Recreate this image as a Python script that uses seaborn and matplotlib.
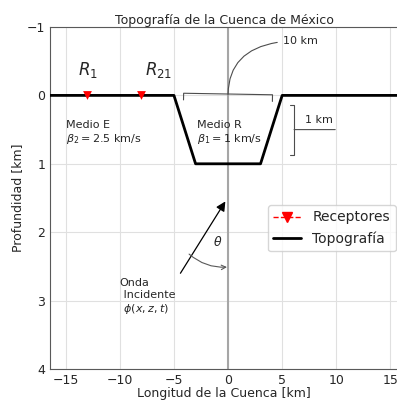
import numpy as np
import pandas as pd
import seaborn as sns
import matplotlib.pyplot as plt
from matplotlib.lines import Line2D

# perfil de la cuenca: longitud [km] y profundidad [km]
topo_x = [-16.5, -5, -3, 3, 5, 16.5]
topo_z = [0, 0, 1, 1, 0, 0]

# receptores en superficie
rec_x = [-13, -8]
rec_z = [0, 0]
rec_labels = ['$R_{1}$', '$R_{21}$']

x_ticks = [-15, -10, -5, 0, 5, 10, 15]
y_ticks = [-1, 0, 1, 2, 3, 4]

sns.set_style('whitegrid')
plt.rcParams['font.family'] = ['DejaVu Sans']
plt.rcParams['axes.edgecolor'] = '0.35'
plt.rcParams['grid.color'] = '0.88'

fig = plt.figure(figsize=(3.97, 4.0), dpi=100)
ax = fig.add_axes([50/397, 31/400, 348/397, 342/400])
ax.spines['right'].set_visible(False)

ax.axvline(0, color='0.65', lw=1.5, zorder=1)

# topografia
sns.lineplot(x=topo_x, y=topo_z, color='k', lw=2, sort=False, ax=ax, zorder=3)

# receptores
sns.scatterplot(x=rec_x, y=rec_z, marker='v', color='red', s=40, linewidth=0, ax=ax, zorder=4)
for xr, lab, dx in zip(rec_x, rec_labels, [-0.9, 0.35]):
    ax.text(xr + dx, -0.37, lab, fontsize=12, va='center', ha='left')

ax.set_xlim(-16.45, 15.7)
ax.set_ylim(4, -1)
ax.set_xticks(x_ticks)
ax.set_yticks(y_ticks)
ax.tick_params(labelsize=9, length=0, pad=3.5)

ax.set_title('Topografía de la Cuenca de México', fontsize=9, pad=2.5)
ax.set_xlabel('Longitud de la Cuenca [km]', fontsize=9, labelpad=0)
ax.set_ylabel('Profundidad [km]', fontsize=9, labelpad=2)

# medios
ax.text(-15, 0.545, 'Medio E\n$\\beta_2 = 2.5$ km/s', fontsize=8, va='center')
ax.text(-2.9, 0.545, 'Medio R\n$\\beta_1 = 1$ km/s', fontsize=8, va='center')

# escala horizontal
ax.annotate('10 km', xy=(0, 0), xytext=(5.1, -0.8), fontsize=8, va='center', ha='left',
            arrowprops=dict(arrowstyle='-[, widthB=4.0, lengthB=0.6',
                            connectionstyle='angle3,angleA=0,angleB=90',
                            color='0.3', lw=0.8, shrinkB=1, mutation_scale=8))

# escala vertical
ax.annotate('', xy=(6.1, 0.5), xytext=(9.9, 0.5),
            arrowprops=dict(arrowstyle='-[, widthB=2.25, lengthB=0.36',
                            color='0.3', lw=0.8, shrinkA=0, shrinkB=0, mutation_scale=8))
ax.text(7.1, 0.36, '1 km', fontsize=8, va='center')

# onda incidente
ax.annotate('', xy=(-0.25, 1.55), xytext=(-4.4, 2.6),
            arrowprops=dict(arrowstyle='-|>', color='k', lw=0.9, shrinkA=0, shrinkB=0,
                            mutation_scale=14))
ax.annotate('', xy=(-0.1, 2.51), xytext=(-3.6, 2.32),
            arrowprops=dict(arrowstyle='->', color='0.35', lw=0.8,
                            connectionstyle='arc3,rad=0.2', shrinkA=0, shrinkB=0,
                            mutation_scale=8))
ax.text(-1.0, 2.14, '$\\theta$', fontsize=9, ha='center', va='center')
ax.text(-10.0, 2.95, 'Onda\n Incidente\n $\\phi(x,z,t)$', fontsize=8, va='center', ha='left')

handles = [Line2D([], [], color='red', ls='--', lw=1, marker='v', ms=7),
           Line2D([], [], color='k', lw=2)]
ax.legend(handles, ['Receptores', 'Topografía'], fontsize=10, loc='upper right',
          bbox_to_anchor=(0.993, 0.48), borderaxespad=0)

fig.savefig('out.png', dpi=100)
